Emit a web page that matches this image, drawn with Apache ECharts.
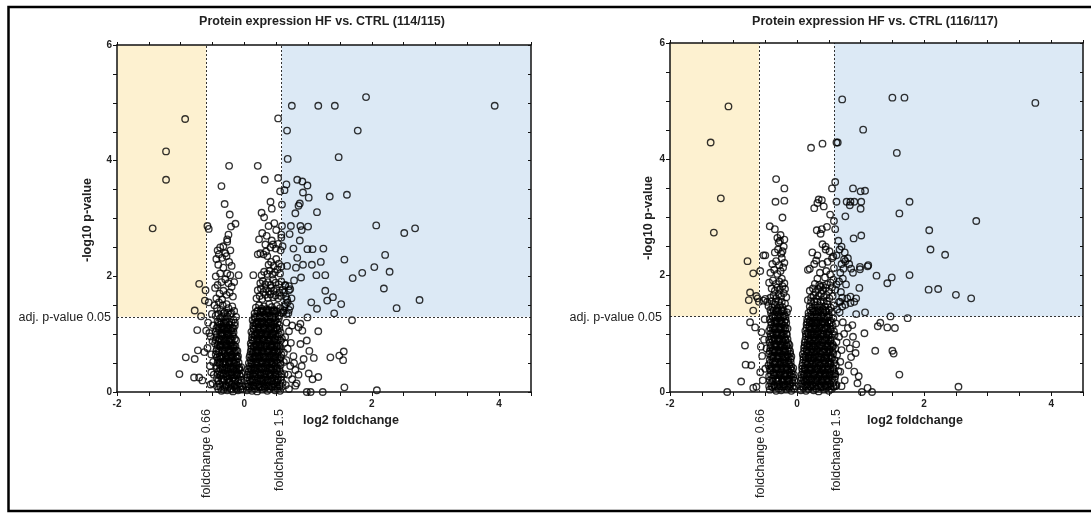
<!DOCTYPE html>
<html>
<head>
<meta charset="utf-8">
<script src="https://cdn.jsdelivr.net/npm/echarts@6/dist/echarts.min.js"></script>
<style>html,body{margin:0;padding:0;background:#fff;}#chart{width:1091px;height:514px;}</style>
</head>
<body>
<div id="chart"></div>
<script>
// ---------- data ----------
const titles = ['Protein expression HF vs. CTRL (114/115)', 'Protein expression HF vs. CTRL (116/117)'];
const xTitle = 'log2 foldchange';
const yTitle = '-log10 p-value';
const pLabel = 'adj. p-value 0.05';
const fcLabels = ['foldchange 0.66', 'foldchange 1.5'];
const fcLines = [-0.6, 0.585];      // log2(0.66), log2(1.5)
const pLine = 1.3;                  // -log10(0.05)
const xRange = [-2, 4.5];
const yRange = [0, 6];

// plot 1 (114/115)
const p1Low = [[-0.93,4.72],[-1.23,4.16],[-1.23,3.67],[-1.44,2.83],[-0.71,1.87],[-0.78,1.41],[-0.68,1.31],[-0.61,1.76],[-0.62,1.58],[-1.02,0.31],[-0.92,0.60],[-0.79,0.25],[-0.78,0.57],[-0.73,0.72],[-0.74,1.07],[-0.71,0.25],[-0.66,0.20],[-0.63,0.69],[-0.60,1.06],[-0.53,0.96],[-0.58,0.76],[-0.53,0.13],[-0.52,0.34],[-0.49,0.52],[-0.55,1.02],[-0.5,0.88],[-0.52,0.65],[-0.48,0.3],[-0.5,0.15],[-0.54,0.45],[-0.57,1.2],[-0.49,1.15],[-0.51,1.35],[-0.56,1.55],[-0.58,2.87],[-0.56,2.82]];
const p1CoreLeft = [[-0.41,0.05],[-0.36,0.02],[-0.31,0.08],[-0.27,0.03],[-0.22,0.06],[-0.18,0.01],[-0.14,0.07],[-0.10,0.03],[-0.06,0.05],[-0.39,0.14],[-0.34,0.17],[-0.29,0.12],[-0.24,0.16],[-0.2,0.13],[-0.16,0.18],[-0.12,0.12],[-0.08,0.15],[-0.04,0.1],
[-0.43,0.24],[-0.38,0.28],[-0.33,0.22],[-0.28,0.27],[-0.25,0.23],[-0.21,0.3],[-0.17,0.25],[-0.13,0.29],[-0.09,0.22],[-0.06,0.27],[-0.4,0.36],[-0.35,0.33],[-0.31,0.38],[-0.26,0.35],[-0.22,0.39],[-0.19,0.34],[-0.15,0.37],[-0.11,0.33],[-0.07,0.38],
[-0.44,0.45],[-0.39,0.48],[-0.35,0.43],[-0.3,0.47],[-0.27,0.42],[-0.23,0.49],[-0.19,0.44],[-0.16,0.5],[-0.12,0.46],[-0.08,0.42],[-0.41,0.56],[-0.37,0.58],[-0.32,0.53],[-0.28,0.57],[-0.24,0.54],[-0.2,0.59],[-0.15,0.55],[-0.11,0.58],
[-0.45,0.65],[-0.4,0.68],[-0.36,0.62],[-0.31,0.66],[-0.27,0.63],[-0.23,0.69],[-0.2,0.64],[-0.16,0.67],[-0.12,0.62],[-0.43,0.75],[-0.38,0.78],[-0.34,0.73],[-0.29,0.77],[-0.25,0.74],[-0.21,0.79],[-0.17,0.76],[-0.13,0.72],
[-0.46,0.84],[-0.41,0.87],[-0.37,0.82],[-0.32,0.86],[-0.28,0.83],[-0.24,0.88],[-0.2,0.85],[-0.16,0.81],[-0.13,0.89],[-0.44,0.95],[-0.39,0.92],[-0.35,0.97],[-0.3,0.94],[-0.26,0.98],[-0.22,0.93],[-0.18,0.96],
[-0.45,1.04],[-0.4,1.07],[-0.36,1.02],[-0.33,1.08],[-0.29,1.05],[-0.25,1.01],[-0.21,1.06],[-0.17,1.03],[-0.42,1.14],[-0.38,1.17],[-0.34,1.13],[-0.3,1.18],[-0.27,1.12],[-0.23,1.16],[-0.19,1.11],[-0.15,1.15],
[-0.47,1.5],[-0.43,1.45],[-0.4,1.55],[-0.37,1.42],[-0.34,1.5],[-0.31,1.38],[-0.28,1.52],[-0.25,1.45],[-0.22,1.35],[-0.19,1.48],[-0.16,1.4],[-0.13,1.3],[-0.45,1.32],[-0.38,1.28],[-0.3,1.25],[-0.24,1.22],[-0.17,1.25],[-0.42,1.22],[-0.35,1.3],[-0.27,1.31],
[-0.46,1.8],[-0.42,1.85],[-0.36,1.9],[-0.3,1.95],[-0.25,1.88],[-0.2,1.82],[-0.16,1.9],[-0.39,1.7],[-0.33,1.75],[-0.28,1.68],[-0.23,1.72],[-0.18,1.65],[-0.44,1.62],[-0.35,1.6],
[-0.44,2.3],[-0.35,2.32],[-0.28,2.35],[-0.24,2.25],[-0.2,2.18],[-0.41,2.2],[-0.33,2.15],[-0.27,2.05],[-0.22,2.02],[-0.38,2.05],[-0.45,2.0],[-0.09,2.02],[-0.42,2.45],[-0.38,2.5],[-0.33,2.52],[-0.27,2.6],[-0.22,2.45],[-0.3,2.4],[-0.4,2.38],
[-0.24,3.91],[-0.36,3.56],[-0.31,3.25],[-0.23,3.07],[-0.14,2.91],[-0.21,2.86],[-0.27,2.64],[-0.25,2.72]];
const p1DenseLeft = [[-0.43,0.1],[-0.38,0.09],[-0.33,0.04],[-0.29,0.1],[-0.25,0.09],[-0.2,0.04],[-0.16,0.1],[-0.12,0.05],[-0.08,0.09],[-0.03,0.04],
[-0.41,0.19],[-0.36,0.23],[-0.32,0.2],[-0.27,0.21],[-0.23,0.19],[-0.19,0.23],[-0.14,0.2],[-0.1,0.19],[-0.05,0.2],
[-0.42,0.31],[-0.37,0.3],[-0.33,0.31],[-0.29,0.32],[-0.24,0.29],[-0.2,0.31],[-0.16,0.3],[-0.12,0.31],[-0.08,0.3],[-0.04,0.32],
[-0.43,0.41],[-0.38,0.4],[-0.34,0.39],[-0.29,0.41],[-0.25,0.4],[-0.21,0.42],[-0.17,0.41],[-0.13,0.4],[-0.09,0.39],[-0.05,0.43],
[-0.42,0.51],[-0.38,0.52],[-0.34,0.5],[-0.29,0.52],[-0.25,0.5],[-0.21,0.52],[-0.17,0.51],[-0.13,0.52],[-0.09,0.51],
[-0.43,0.6],[-0.39,0.61],[-0.34,0.6],[-0.29,0.61],[-0.25,0.6],[-0.22,0.61],[-0.18,0.6],[-0.14,0.61],[-0.1,0.62],
[-0.44,0.71],[-0.4,0.72],[-0.35,0.71],[-0.31,0.7],[-0.27,0.72],[-0.23,0.71],[-0.19,0.72],[-0.15,0.7],[-0.11,0.71],
[-0.42,0.81],[-0.38,0.8],[-0.34,0.81],[-0.3,0.8],[-0.26,0.81],[-0.22,0.8],[-0.18,0.81],[-0.14,0.79],
[-0.45,0.9],[-0.4,0.91],[-0.36,0.9],[-0.32,0.91],[-0.28,0.9],[-0.24,0.91],[-0.2,0.9],[-0.15,0.92],
[-0.43,1.0],[-0.38,0.99],[-0.34,1.0],[-0.31,0.99],[-0.27,1.0],[-0.23,0.99],[-0.19,1.0],
[-0.44,1.1],[-0.4,1.11],[-0.36,1.1],[-0.32,1.11],[-0.28,1.1],[-0.25,1.09],[-0.21,1.1],[-0.17,1.1],
[-0.4,1.2],[-0.36,1.21],[-0.32,1.2],[-0.28,1.21],[-0.2,1.2],[-0.15,1.2],
[-0.41,1.35],[-0.33,1.36],[-0.26,1.37],[-0.2,1.36]];
const p1CoreRight = [[0.04,0.03],[0.08,0.07],[0.12,0.02],[0.16,0.06],[0.2,0.01],[0.24,0.08],[0.28,0.04],[0.32,0.07],[0.36,0.02],[0.4,0.05],[0.44,0.09],[0.48,0.03],[0.52,0.06],[0.56,0.02],[0.06,0.14],[0.1,0.18],[0.14,0.12],[0.18,0.16],[0.22,0.13],[0.26,0.19],[0.3,0.14],[0.34,0.17],[0.38,0.12],[0.42,0.18],[0.46,0.14],[0.5,0.17],[0.55,0.13],[0.6,0.16],
[0.05,0.25],[0.09,0.28],[0.13,0.22],[0.17,0.27],[0.21,0.24],[0.25,0.29],[0.29,0.23],[0.33,0.26],[0.37,0.21],[0.41,0.28],[0.45,0.24],[0.49,0.27],[0.53,0.22],[0.58,0.26],[0.07,0.35],[0.11,0.38],[0.15,0.33],[0.19,0.37],[0.23,0.34],[0.27,0.39],[0.31,0.32],[0.35,0.36],[0.39,0.33],[0.43,0.38],[0.47,0.34],[0.51,0.37],[0.56,0.35],[0.63,0.31],
[0.08,0.44],[0.12,0.48],[0.16,0.42],[0.2,0.46],[0.24,0.43],[0.28,0.49],[0.32,0.44],[0.36,0.47],[0.4,0.42],[0.44,0.48],[0.48,0.45],[0.52,0.41],[0.57,0.47],[0.1,0.55],[0.14,0.58],[0.18,0.53],[0.22,0.57],[0.26,0.54],[0.3,0.59],[0.34,0.52],[0.38,0.56],[0.42,0.53],[0.46,0.58],[0.5,0.54],[0.55,0.57],[0.62,0.52],
[0.09,0.64],[0.13,0.67],[0.17,0.62],[0.21,0.68],[0.25,0.63],[0.29,0.66],[0.33,0.61],[0.37,0.69],[0.41,0.64],[0.45,0.67],[0.49,0.62],[0.53,0.68],[0.58,0.65],[0.11,0.75],[0.15,0.78],[0.19,0.73],[0.23,0.77],[0.27,0.72],[0.31,0.76],[0.35,0.79],[0.39,0.74],[0.43,0.77],[0.47,0.73],[0.51,0.78],[0.56,0.74],
[0.1,0.84],[0.14,0.88],[0.18,0.82],[0.22,0.86],[0.26,0.83],[0.3,0.89],[0.34,0.84],[0.38,0.87],[0.42,0.82],[0.46,0.88],[0.5,0.85],[0.54,0.81],[0.12,0.95],[0.16,0.98],[0.2,0.93],[0.24,0.97],[0.28,0.92],[0.32,0.96],[0.36,0.99],[0.4,0.94],[0.44,0.97],[0.48,0.93],[0.53,0.96],[0.59,0.92],
[0.11,1.04],[0.15,1.08],[0.19,1.02],[0.23,1.06],[0.27,1.03],[0.31,1.09],[0.35,1.04],[0.39,1.07],[0.43,1.01],[0.47,1.05],[0.52,1.08],[0.57,1.03],[0.14,1.15],[0.18,1.18],[0.22,1.13],[0.26,1.17],[0.3,1.12],[0.34,1.16],[0.38,1.19],[0.42,1.14],[0.46,1.17],[0.5,1.12],[0.55,1.16],
[0.13,1.24],[0.17,1.28],[0.21,1.22],[0.25,1.27],[0.29,1.23],[0.33,1.29],[0.37,1.25],[0.41,1.21],[0.45,1.28],[0.49,1.24],[0.54,1.27],[0.16,1.36],[0.2,1.39],[0.24,1.33],[0.28,1.38],[0.32,1.34],[0.36,1.37],[0.4,1.32],[0.44,1.39],[0.48,1.35],[0.53,1.31],[0.58,1.37],[0.18,1.46],[0.23,1.5],[0.27,1.44],[0.31,1.48],[0.35,1.43],[0.39,1.52],[0.43,1.47],[0.47,1.42],[0.51,1.49],[0.56,1.45],
[0.19,1.62],[0.24,1.66],[0.28,1.61],[0.33,1.68],[0.37,1.63],[0.41,1.69],[0.45,1.64],[0.49,1.67],[0.53,1.62],[0.57,1.66],[0.21,1.76],[0.26,1.79],[0.3,1.73],[0.34,1.78],[0.38,1.74],[0.42,1.8],[0.46,1.75],[0.5,1.79],[0.55,1.72],[0.6,1.77],[0.25,1.88],[0.29,1.92],[0.33,1.86],[0.37,1.9],[0.41,1.85],[0.45,1.94],[0.49,1.89],[0.54,1.86],[0.58,1.91],
[0.14,2.02],[0.27,2.02],[0.31,2.08],[0.36,2.04],[0.4,2.1],[0.44,2.03],[0.48,2.07],[0.52,2.12],[0.56,2.05],[0.25,2.4],[0.3,2.38],[0.34,2.43],[0.38,2.2],[0.42,2.25],[0.46,2.18],[0.5,2.3],[0.54,2.22],[0.58,2.17],[0.33,2.55],[0.41,2.5],[0.45,2.55],[0.49,2.48],[0.53,2.56],[0.57,2.45],[0.6,2.52],[0.36,2.35],[0.21,2.38],
[0.21,3.91],[0.32,3.67],[0.53,3.70],[0.56,3.47],[0.41,3.29],[0.43,3.17],[0.27,3.10],[0.31,3.02],[0.38,2.87],[0.28,2.75],[0.23,2.64],[0.58,2.72],[0.58,2.67],[0.53,4.73],[0.59,3.24],[0.59,2.87],[0.43,2.62],[0.35,2.7],[0.47,2.92],[0.5,2.8]];
const p1DenseRight = [[0.03,0.09],[0.07,0.1],[0.11,0.09],[0.15,0.1],[0.19,0.09],[0.23,0.1],[0.27,0.09],[0.31,0.1],[0.35,0.09],[0.39,0.1],[0.43,0.09],[0.47,0.1],[0.51,0.09],[0.55,0.1],[0.59,0.09],
[0.04,0.2],[0.08,0.21],[0.12,0.2],[0.16,0.21],[0.2,0.2],[0.24,0.21],[0.28,0.2],[0.32,0.21],[0.36,0.2],[0.4,0.21],[0.44,0.2],[0.48,0.21],[0.52,0.2],[0.57,0.21],
[0.05,0.3],[0.09,0.31],[0.13,0.3],[0.17,0.31],[0.21,0.3],[0.25,0.31],[0.29,0.3],[0.33,0.31],[0.37,0.3],[0.41,0.31],[0.45,0.3],[0.49,0.31],[0.53,0.3],[0.58,0.31],
[0.06,0.4],[0.1,0.41],[0.14,0.4],[0.18,0.41],[0.22,0.4],[0.26,0.41],[0.3,0.4],[0.34,0.41],[0.38,0.4],[0.42,0.41],[0.46,0.4],[0.5,0.41],[0.55,0.4],
[0.07,0.5],[0.11,0.51],[0.15,0.5],[0.19,0.51],[0.23,0.5],[0.27,0.51],[0.31,0.5],[0.35,0.51],[0.39,0.5],[0.43,0.51],[0.47,0.5],[0.51,0.51],[0.56,0.5],
[0.08,0.6],[0.12,0.61],[0.16,0.6],[0.2,0.61],[0.24,0.6],[0.28,0.61],[0.32,0.6],[0.36,0.61],[0.4,0.6],[0.44,0.61],[0.48,0.6],[0.52,0.61],[0.57,0.6],
[0.1,0.7],[0.14,0.71],[0.18,0.7],[0.22,0.71],[0.26,0.7],[0.3,0.71],[0.34,0.7],[0.38,0.71],[0.42,0.7],[0.46,0.71],[0.5,0.7],[0.54,0.71],
[0.11,0.8],[0.15,0.79],[0.19,0.8],[0.23,0.79],[0.27,0.8],[0.31,0.79],[0.35,0.8],[0.39,0.79],[0.43,0.8],[0.47,0.79],[0.51,0.8],[0.56,0.79],
[0.12,0.9],[0.16,0.91],[0.2,0.9],[0.24,0.91],[0.28,0.9],[0.32,0.91],[0.36,0.9],[0.4,0.91],[0.44,0.9],[0.48,0.91],[0.52,0.9],[0.57,0.89],
[0.13,1.0],[0.17,0.99],[0.21,1.0],[0.25,0.99],[0.29,1.0],[0.33,0.99],[0.37,1.0],[0.41,0.99],[0.45,1.0],[0.49,0.99],[0.54,1.0],
[0.14,1.1],[0.18,1.11],[0.22,1.1],[0.26,1.11],[0.3,1.1],[0.34,1.11],[0.38,1.1],[0.42,1.11],[0.46,1.1],[0.5,1.11],[0.55,1.1],
[0.15,1.2],[0.19,1.19],[0.23,1.2],[0.27,1.19],[0.31,1.2],[0.35,1.19],[0.39,1.2],[0.43,1.19],[0.47,1.2],[0.52,1.19],
[0.16,1.3],[0.2,1.31],[0.24,1.3],[0.28,1.31],[0.32,1.3],[0.36,1.31],[0.4,1.3],[0.44,1.31],[0.48,1.3],[0.55,1.32],
[0.21,1.41],[0.26,1.4],[0.3,1.41],[0.34,1.4],[0.38,1.41],[0.42,1.4],[0.46,1.41],[0.5,1.4]];
const p1High = [[0.745,4.95],[1.16,4.95],[1.42,4.95],[1.91,5.10],[3.93,4.95],[0.67,4.52],[1.78,4.52],[0.68,4.03],[1.48,4.06],[0.66,3.59],[0.63,3.49],[0.83,3.67],[0.91,3.64],[0.99,3.57],[0.92,3.45],[1.34,3.38],[1.61,3.41],[1.01,3.36],[0.87,3.26],[0.85,3.22],[0.80,3.09],[1.14,3.11],[0.73,2.87],[0.88,2.87],[1.00,2.86],[2.07,2.88],[2.68,2.83],[2.51,2.75],[0.90,2.80],[0.71,2.73],[0.87,2.62],[0.77,2.48],[0.99,2.47],[1.07,2.47],[1.24,2.48],[0.83,2.32],[1.57,2.29],[2.21,2.37],[0.67,2.18],[0.81,2.15],[0.92,2.20],[1.06,2.20],[1.20,2.25],[2.04,2.16],[2.28,2.08],[1.85,2.06],[1.70,1.97],[0.89,1.98],[1.13,2.02],[1.27,2.02],[0.78,1.93],[0.70,1.83],[2.19,1.79],[1.27,1.75],[2.75,1.59],[1.30,1.58],[1.39,1.64],[1.05,1.55],[1.52,1.52],[1.14,1.44],[2.39,1.45],[1.41,1.36],[1.69,1.24],[0.99,1.29],[0.88,1.18],[0.85,1.12],[0.91,1.06],[1.16,1.05],[0.98,0.89],[0.88,0.83],[1.02,0.71],[1.56,0.70],[1.35,0.60],[1.49,0.63],[1.55,0.55],[1.09,0.59],[0.93,0.57],[1.01,0.32],[1.16,0.26],[1.07,0.22],[1.57,0.08],[2.08,0.03],[0.98,0],[1.04,0],[1.23,0],[0.80,0.11],
[0.62,1.72],[0.65,1.65],[0.68,1.55],[0.63,1.48],[0.7,1.42],[0.66,1.35],[0.74,1.62],[0.61,1.38],[0.72,1.78],[0.64,1.85],[0.62,1.41],[0.65,1.52],[0.69,1.36],[0.72,1.48],[0.67,1.6],[0.64,1.84],[0.7,1.76],
[0.66,1.2],[0.7,1.05],[0.64,0.95],[0.73,0.85],[0.68,0.75],[0.77,0.62],[0.66,0.55],[0.72,0.45],[0.8,0.38],[0.69,0.3],[0.75,0.22],[0.65,0.12],[0.82,0.15],[0.7,0.05],[0.78,0.5],[0.85,0.3],[0.9,0.45],[0.62,0.68],[0.63,0.85],[0.75,1.15]];

// plot 2 (116/117)
const p2Low = [[-1.08,4.91],[-1.36,4.29],[-1.20,3.33],[-1.31,2.74],[-0.78,2.25],[-0.69,2.04],[-0.74,1.71],[-0.76,1.58],[-0.69,1.40],[-0.64,1.65],[-0.62,1.61],[-0.82,0.80],[-0.81,0.47],[-0.72,0.46],[-0.88,0.18],[-1.10,0.0],[-0.74,1.20],[-0.66,1.11],[-0.56,1.03],[-0.69,0.07],[-0.64,0.09],[-0.58,0.34],[-0.52,0.9],[-0.55,0.62],[-0.5,0.4],[-0.54,0.2],[-0.48,0.75],[-0.51,1.25],[-0.57,0.78],[-0.58,2.08],[-0.6,1.55],[-0.53,2.35],[-0.5,2.35],[-0.47,1.55],[-0.5,1.6],[-0.53,1.57]];
const p2CoreLeft = [[-0.43,0.04],[-0.38,0.08],[-0.33,0.02],[-0.29,0.06],[-0.25,0.03],[-0.21,0.09],[-0.17,0.04],[-0.13,0.07],[-0.09,0.02],[-0.05,0.06],[-0.41,0.15],[-0.36,0.12],[-0.31,0.18],[-0.27,0.14],[-0.23,0.17],[-0.19,0.13],[-0.15,0.19],[-0.11,0.14],[-0.07,0.16],
[-0.44,0.27],[-0.39,0.23],[-0.35,0.28],[-0.3,0.24],[-0.26,0.29],[-0.22,0.22],[-0.18,0.27],[-0.14,0.23],[-0.1,0.28],[-0.06,0.25],[-0.42,0.37],[-0.37,0.34],[-0.32,0.39],[-0.28,0.33],[-0.24,0.36],[-0.2,0.31],[-0.16,0.38],[-0.12,0.34],[-0.08,0.37],
[-0.45,0.46],[-0.4,0.43],[-0.36,0.48],[-0.32,0.42],[-0.28,0.47],[-0.24,0.44],[-0.2,0.49],[-0.16,0.43],[-0.12,0.47],[-0.09,0.44],[-0.43,0.55],[-0.38,0.58],[-0.34,0.53],[-0.3,0.57],[-0.26,0.52],[-0.22,0.56],[-0.18,0.59],[-0.14,0.54],[-0.1,0.57],
[-0.44,0.66],[-0.39,0.63],[-0.35,0.68],[-0.31,0.62],[-0.27,0.67],[-0.23,0.64],[-0.19,0.69],[-0.15,0.63],[-0.11,0.66],[-0.42,0.76],[-0.37,0.73],[-0.33,0.78],[-0.29,0.72],[-0.25,0.77],[-0.21,0.74],[-0.17,0.79],[-0.13,0.75],
[-0.43,0.85],[-0.38,0.88],[-0.34,0.83],[-0.3,0.87],[-0.26,0.82],[-0.22,0.86],[-0.18,0.89],[-0.14,0.84],[-0.41,0.96],[-0.36,0.93],[-0.32,0.98],[-0.28,0.92],[-0.24,0.97],[-0.2,0.94],[-0.16,0.99],
[-0.44,1.05],[-0.39,1.02],[-0.35,1.08],[-0.31,1.03],[-0.27,1.07],[-0.23,1.01],[-0.19,1.06],[-0.15,1.09],[-0.4,1.16],[-0.36,1.13],[-0.32,1.18],[-0.28,1.12],[-0.24,1.17],[-0.2,1.14],[-0.17,1.19],
[-0.43,1.25],[-0.38,1.28],[-0.34,1.22],[-0.3,1.27],[-0.26,1.23],[-0.22,1.29],[-0.18,1.24],[-0.41,1.36],[-0.36,1.33],[-0.32,1.38],[-0.28,1.34],[-0.24,1.39],[-0.2,1.32],[-0.16,1.37],[-0.45,1.48],[-0.39,1.45],[-0.35,1.5],[-0.31,1.44],[-0.27,1.49],[-0.23,1.46],[-0.19,1.52],[-0.14,1.43],
[-0.42,1.62],[-0.37,1.66],[-0.33,1.61],[-0.29,1.68],[-0.25,1.64],[-0.21,1.7],[-0.17,1.63],[-0.4,1.78],[-0.35,1.74],[-0.31,1.8],[-0.27,1.76],[-0.23,1.82],[-0.19,1.77],[-0.44,1.88],[-0.38,1.92],[-0.33,1.86],[-0.28,1.9],[-0.24,1.95],[-0.2,1.87],
[-0.42,2.05],[-0.36,2.1],[-0.31,2.03],[-0.26,2.08],[-0.22,2.14],[-0.39,2.2],[-0.33,2.25],[-0.28,2.18],[-0.24,2.3],[-0.2,2.22],[-0.35,2.4],[-0.3,2.45],[-0.25,2.38],[-0.21,2.5],[-0.31,2.65],[-0.29,2.57],[-0.43,2.85],[-0.35,2.8],[-0.23,2.42],[-0.27,2.6],[-0.26,2.7],[-0.2,2.62],
[-0.33,3.66],[-0.2,3.5],[-0.34,3.27],[-0.2,3.29],[-0.23,3.0]];
const p2DenseLeft = [[-0.44,0.1],[-0.4,0.09],[-0.35,0.1],[-0.31,0.09],[-0.27,0.1],[-0.23,0.09],[-0.19,0.1],[-0.15,0.09],[-0.11,0.1],[-0.07,0.09],[-0.03,0.1],
[-0.43,0.2],[-0.38,0.19],[-0.33,0.21],[-0.29,0.2],[-0.24,0.21],[-0.2,0.2],[-0.16,0.21],[-0.12,0.2],[-0.08,0.21],[-0.04,0.2],
[-0.41,0.3],[-0.37,0.29],[-0.32,0.31],[-0.28,0.3],[-0.24,0.29],[-0.2,0.3],[-0.16,0.31],[-0.12,0.29],[-0.08,0.31],[-0.05,0.3],
[-0.43,0.4],[-0.38,0.41],[-0.34,0.4],[-0.3,0.39],[-0.26,0.4],[-0.22,0.41],[-0.18,0.4],[-0.14,0.39],[-0.1,0.4],[-0.06,0.41],
[-0.42,0.5],[-0.38,0.51],[-0.34,0.5],[-0.3,0.51],[-0.26,0.49],[-0.22,0.5],[-0.18,0.51],[-0.14,0.5],[-0.1,0.51],
[-0.41,0.61],[-0.37,0.6],[-0.33,0.61],[-0.29,0.6],[-0.25,0.61],[-0.21,0.6],[-0.17,0.61],[-0.13,0.6],[-0.09,0.61],
[-0.43,0.7],[-0.39,0.71],[-0.35,0.7],[-0.31,0.71],[-0.27,0.7],[-0.23,0.71],[-0.19,0.7],[-0.15,0.71],[-0.11,0.7],
[-0.41,0.8],[-0.36,0.81],[-0.32,0.8],[-0.28,0.81],[-0.24,0.8],[-0.2,0.81],[-0.16,0.8],[-0.12,0.81],
[-0.44,0.9],[-0.4,0.91],[-0.35,0.9],[-0.31,0.91],[-0.27,0.9],[-0.23,0.91],[-0.19,0.9],[-0.15,0.91],
[-0.42,1.0],[-0.37,0.99],[-0.33,1.0],[-0.29,0.99],[-0.25,1.0],[-0.21,0.99],[-0.17,1.0],
[-0.42,1.1],[-0.38,1.09],[-0.34,1.1],[-0.3,1.09],[-0.26,1.1],[-0.22,1.09],[-0.18,1.1],
[-0.41,1.2],[-0.36,1.21],[-0.32,1.2],[-0.28,1.21],[-0.24,1.2],[-0.2,1.21],
[-0.39,1.31],[-0.34,1.3],[-0.3,1.31],[-0.26,1.3],[-0.22,1.31],[-0.18,1.3],
[-0.42,1.41],[-0.37,1.4],[-0.33,1.41],[-0.29,1.4],[-0.25,1.41],[-0.21,1.4],
[-0.4,1.56],[-0.34,1.55],[-0.29,1.56],[-0.24,1.55]];
const p2CoreRight = [[0.06,0.03],[0.1,0.07],[0.14,0.02],[0.18,0.05],[0.22,0.09],[0.26,0.03],[0.3,0.06],[0.34,0.01],[0.38,0.08],[0.42,0.04],[0.46,0.07],[0.5,0.02],[0.54,0.05],[0.58,0.09],[0.08,0.15],[0.12,0.18],[0.16,0.13],[0.2,0.17],[0.24,0.12],[0.28,0.16],[0.32,0.19],[0.36,0.14],[0.4,0.17],[0.44,0.12],[0.48,0.18],[0.52,0.14],[0.57,0.16],[0.62,0.12],
[0.07,0.24],[0.11,0.28],[0.15,0.22],[0.19,0.26],[0.23,0.23],[0.27,0.29],[0.31,0.24],[0.35,0.27],[0.39,0.21],[0.43,0.26],[0.47,0.23],[0.51,0.28],[0.55,0.24],[0.6,0.27],[0.09,0.35],[0.13,0.38],[0.17,0.33],[0.21,0.37],[0.25,0.32],[0.29,0.36],[0.33,0.39],[0.37,0.34],[0.41,0.37],[0.45,0.33],[0.49,0.38],[0.53,0.35],[0.58,0.32],[0.65,0.36],
[0.08,0.45],[0.12,0.42],[0.16,0.47],[0.2,0.43],[0.24,0.48],[0.28,0.44],[0.32,0.41],[0.36,0.46],[0.4,0.43],[0.44,0.49],[0.48,0.44],[0.52,0.47],[0.56,0.42],[0.61,0.46],[0.1,0.56],[0.14,0.53],[0.18,0.58],[0.22,0.54],[0.26,0.57],[0.3,0.52],[0.34,0.56],[0.38,0.59],[0.42,0.54],[0.46,0.57],[0.5,0.53],[0.54,0.58],[0.59,0.55],[0.68,0.52],
[0.09,0.65],[0.13,0.62],[0.17,0.67],[0.21,0.63],[0.25,0.68],[0.29,0.64],[0.33,0.61],[0.37,0.66],[0.41,0.69],[0.45,0.63],[0.49,0.67],[0.53,0.62],[0.57,0.66],[0.63,0.64],[0.11,0.76],[0.15,0.73],[0.19,0.78],[0.23,0.74],[0.27,0.77],[0.31,0.72],[0.35,0.76],[0.39,0.79],[0.43,0.73],[0.47,0.77],[0.51,0.74],[0.55,0.78],[0.6,0.75],[0.7,0.72],
[0.12,0.85],[0.16,0.82],[0.2,0.87],[0.24,0.83],[0.28,0.88],[0.32,0.84],[0.36,0.81],[0.4,0.86],[0.44,0.89],[0.48,0.83],[0.52,0.87],[0.56,0.82],[0.62,0.86],[0.14,0.96],[0.18,0.93],[0.22,0.98],[0.26,0.94],[0.3,0.97],[0.34,0.92],[0.38,0.96],[0.42,0.99],[0.46,0.93],[0.5,0.97],[0.54,0.94],[0.59,0.98],[0.66,0.95],
[0.13,1.05],[0.17,1.02],[0.21,1.07],[0.25,1.03],[0.29,1.08],[0.33,1.04],[0.37,1.01],[0.41,1.06],[0.45,1.09],[0.49,1.03],[0.53,1.07],[0.58,1.04],[0.15,1.16],[0.19,1.13],[0.23,1.18],[0.27,1.14],[0.31,1.17],[0.35,1.12],[0.39,1.16],[0.43,1.19],[0.47,1.13],[0.51,1.17],[0.56,1.14],[0.61,1.18],
[0.16,1.25],[0.2,1.22],[0.24,1.27],[0.28,1.23],[0.32,1.28],[0.36,1.24],[0.4,1.21],[0.44,1.26],[0.48,1.29],[0.52,1.23],[0.57,1.27],[0.18,1.36],[0.22,1.33],[0.26,1.38],[0.3,1.34],[0.34,1.37],[0.38,1.32],[0.42,1.36],[0.46,1.39],[0.5,1.33],[0.55,1.37],[0.2,1.47],[0.24,1.44],[0.28,1.49],[0.32,1.45],[0.36,1.48],[0.4,1.43],[0.44,1.47],[0.48,1.51],[0.53,1.45],[0.58,1.49],
[0.17,1.58],[0.22,1.62],[0.26,1.66],[0.3,1.6],[0.34,1.65],[0.38,1.69],[0.42,1.63],[0.46,1.67],[0.51,1.61],[0.56,1.65],[0.2,1.74],[0.25,1.78],[0.29,1.72],[0.33,1.77],[0.37,1.81],[0.41,1.75],[0.45,1.79],[0.5,1.73],[0.55,1.8],[0.28,1.86],[0.35,1.84],[0.41,1.83],[0.47,1.85],[0.53,1.88],[0.32,1.95],[0.44,1.97],[0.57,1.93],
[0.17,2.1],[0.2,2.12],[0.36,2.05],[0.46,2.08],[0.52,2.02],[0.58,2.13],[0.27,2.2],[0.3,2.26],[0.4,2.2],[0.48,2.24],[0.55,2.3],[0.32,2.35],[0.24,2.4],[0.45,2.45],[0.51,2.42],[0.57,2.33],[0.4,2.54],[0.45,2.5],[0.31,2.78],[0.37,2.72],[0.39,2.8],[0.47,2.84],[0.52,3.05],[0.58,2.94],[0.27,3.16],[0.42,3.19],[0.32,3.25],[0.34,3.31],[0.39,3.3],[0.55,3.5],[0.22,4.2],[0.4,4.27]];
const p2DenseRight = [[0.05,0.1],[0.09,0.09],[0.13,0.1],[0.17,0.09],[0.21,0.1],[0.25,0.09],[0.29,0.1],[0.33,0.09],[0.37,0.1],[0.41,0.09],[0.45,0.1],[0.49,0.09],[0.53,0.1],[0.57,0.09],[0.61,0.1],
[0.06,0.2],[0.1,0.21],[0.14,0.2],[0.18,0.21],[0.22,0.2],[0.26,0.21],[0.3,0.2],[0.34,0.21],[0.38,0.2],[0.42,0.21],[0.46,0.2],[0.5,0.21],[0.54,0.2],[0.59,0.21],
[0.07,0.3],[0.11,0.31],[0.15,0.3],[0.19,0.31],[0.23,0.3],[0.27,0.31],[0.31,0.3],[0.35,0.31],[0.39,0.3],[0.43,0.31],[0.47,0.3],[0.51,0.31],[0.55,0.3],[0.6,0.31],
[0.08,0.4],[0.12,0.39],[0.16,0.4],[0.2,0.39],[0.24,0.4],[0.28,0.39],[0.32,0.4],[0.36,0.39],[0.4,0.4],[0.44,0.39],[0.48,0.4],[0.52,0.39],[0.57,0.4],
[0.09,0.5],[0.13,0.49],[0.17,0.5],[0.21,0.49],[0.25,0.5],[0.29,0.49],[0.33,0.5],[0.37,0.49],[0.41,0.5],[0.45,0.49],[0.49,0.5],[0.53,0.49],[0.58,0.5],
[0.1,0.6],[0.14,0.59],[0.18,0.6],[0.22,0.59],[0.26,0.6],[0.3,0.59],[0.34,0.6],[0.38,0.59],[0.42,0.6],[0.46,0.59],[0.5,0.6],[0.55,0.59],
[0.11,0.7],[0.15,0.69],[0.19,0.7],[0.23,0.69],[0.27,0.7],[0.31,0.69],[0.35,0.7],[0.39,0.69],[0.43,0.7],[0.47,0.69],[0.51,0.7],[0.56,0.69],
[0.12,0.8],[0.16,0.79],[0.2,0.8],[0.24,0.79],[0.28,0.8],[0.32,0.79],[0.36,0.8],[0.4,0.79],[0.44,0.8],[0.48,0.79],[0.52,0.8],[0.57,0.79],
[0.13,0.9],[0.17,0.89],[0.21,0.9],[0.25,0.89],[0.29,0.9],[0.33,0.89],[0.37,0.9],[0.41,0.89],[0.45,0.9],[0.49,0.89],[0.53,0.9],
[0.14,1.0],[0.18,0.99],[0.22,1.0],[0.26,0.99],[0.3,1.0],[0.34,0.99],[0.38,1.0],[0.42,0.99],[0.46,1.0],[0.5,0.99],[0.55,1.0],
[0.15,1.1],[0.19,1.09],[0.23,1.1],[0.27,1.09],[0.31,1.1],[0.35,1.09],[0.39,1.1],[0.43,1.09],[0.47,1.1],[0.52,1.09],
[0.16,1.2],[0.2,1.19],[0.24,1.2],[0.28,1.19],[0.32,1.2],[0.36,1.19],[0.4,1.2],[0.44,1.19],[0.48,1.2],[0.54,1.19],
[0.18,1.3],[0.22,1.29],[0.26,1.3],[0.3,1.29],[0.34,1.3],[0.38,1.29],[0.42,1.3],[0.46,1.29],[0.5,1.3],
[0.21,1.4],[0.25,1.41],[0.29,1.4],[0.33,1.41],[0.37,1.4],[0.41,1.41],[0.45,1.4],[0.5,1.41],
[0.22,1.55],[0.27,1.56],[0.32,1.55],[0.37,1.56],[0.42,1.55],[0.47,1.56]];
const p2High = [[0.71,5.03],[1.50,5.06],[1.69,5.06],[3.75,4.97],[1.04,4.51],[1.57,4.11],[0.62,4.29],[0.64,4.29],[0.6,3.61],[0.62,3.27],[0.6,2.8],[0.62,2.35],[0.6,1.76],[0.62,1.85],[0.63,1.42],[0.66,1.55],[0.71,1.47],[0.67,2.45],
[0.88,3.50],[1.00,3.45],[1.07,3.46],[0.78,3.27],[0.84,3.27],[0.90,3.27],[1.01,3.27],[0.83,3.21],[1.00,3.15],[1.77,3.27],[1.61,3.07],[0.76,3.02],[2.82,2.94],[2.08,2.78],[0.89,2.64],[1.01,2.69],[2.10,2.45],[2.33,2.36],[0.74,2.28],[1.25,2.00],[1.49,1.97],[1.42,1.87],[1.77,2.01],[2.07,1.76],[2.22,1.77],[2.50,1.67],[2.74,1.61],[0.98,1.79],[0.84,1.64],[0.93,1.61],[0.79,1.61],[0.84,1.53],[0.68,1.55],[0.67,1.37],[0.93,1.34],[1.07,1.37],[0.99,2.15],[0.99,2.11],[1.12,2.18],[1.11,2.16],[1.47,1.30],[1.74,1.27],[1.27,1.13],[1.31,1.19],[1.42,1.11],[1.54,1.10],[1.06,1.01],[1.23,0.71],[1.50,0.71],[1.52,0.66],[1.61,0.30],[2.54,0.09],[0.92,0.67],[1.02,0],[1.11,0.07],[1.18,0],[0.97,0.27],[0.81,0.46],
[0.7,2.2],[0.73,2.12],[0.76,2.25],[0.68,2.05],[0.72,1.95],[0.66,1.9],[0.69,1.72],[0.77,1.85],[0.8,2.3],[0.82,2.2],[0.75,2.4],[0.7,2.5],[0.65,2.6],[0.71,1.62],[0.88,2.05],[0.85,2.12],[0.9,1.55],[0.76,1.5],
[0.75,0.2],[0.7,0.1],[0.85,0.6],[0.78,0.85],[0.88,0.95],[0.8,1.1],[0.72,1.2],[0.9,0.35],[0.95,0.15],[0.68,0.35],[0.83,0.75],[0.74,1.0],[0.93,0.82],[0.87,1.15]];

// ---------- chart ----------
const FONT = '"Liberation Sans", Arial, Helvetica, sans-serif';
const TXT = '#222';
const chart = echarts.init(document.getElementById('chart'), null, {renderer: 'canvas'});

function xAxes(gi) {
  const common = {gridIndex: gi, type: 'value', min: xRange[0], max: xRange[1], interval: 0.5, z: 10,
    splitLine: {show: false}, axisLine: {onZero: false, lineStyle: {color: '#111', width: 1.5}}};
  return [
    Object.assign({}, common, {position: 'bottom',
      axisTick: {length: 4, lineStyle: {color: '#111', width: 1}},
      axisLabel: {interval: 0, margin: 7, fontSize: 10, fontWeight: 'bold', color: TXT, fontFamily: FONT,
        formatter: v => (Math.abs(v % 2) < 1e-9 ? String(v) : '')}}),
    Object.assign({}, common, {position: 'top',
      axisTick: {length: 3, lineStyle: {color: '#111', width: 1}}, axisLabel: {show: false}})
  ];
}
function yAxes(gi) {
  const common = {gridIndex: gi, type: 'value', min: yRange[0], max: yRange[1], interval: 0.5, z: 10,
    splitLine: {show: false}, axisLine: {onZero: false, lineStyle: {color: '#111', width: 1.5}}};
  return [
    Object.assign({}, common, {position: 'left',
      axisTick: {length: 4, lineStyle: {color: '#111', width: 1}},
      axisLabel: {interval: 0, margin: 5, fontSize: 10, fontWeight: 'bold', color: TXT, fontFamily: FONT,
        formatter: v => (Math.abs(v % 2) < 1e-9 ? String(v) : '')}}),
    Object.assign({}, common, {position: 'right',
      axisTick: {inside: true, length: 3, lineStyle: {color: '#111', width: 1}}, axisLabel: {show: false}})
  ];
}
function pointSeries(idx, data) {
  return {type: 'scatter', xAxisIndex: idx * 2, yAxisIndex: idx * 2, data: data, z: 2,
    symbol: 'circle', symbolSize: 6.5, silent: true, large: false,
    itemStyle: {color: 'rgba(255,255,255,0)', borderColor: '#000', borderWidth: 1.35}};
}
function overlaySeries(idx) {
  return {type: 'scatter', xAxisIndex: idx * 2, yAxisIndex: idx * 2, data: [], z: 5, silent: true,
    markArea: {silent: true, data: [
      [{xAxis: xRange[0], yAxis: pLine, itemStyle: {color: 'rgba(251,224,150,0.45)'}}, {xAxis: fcLines[0], yAxis: yRange[1]}],
      [{xAxis: fcLines[1], yAxis: pLine, itemStyle: {color: 'rgba(177,206,233,0.45)'}}, {xAxis: xRange[1], yAxis: yRange[1]}]
    ]}};
}
function lineSeries(idx) {
  return {type: 'scatter', xAxisIndex: idx * 2, yAxisIndex: idx * 2, data: [], z: 6, silent: true,
    markLine: {silent: true, symbol: 'none', label: {show: false}, animation: false,
      lineStyle: {color: '#333', width: 1, type: [2, 2]},
      data: [{xAxis: fcLines[0]}, {xAxis: fcLines[1]}, {yAxis: pLine}]}};
}
function txt(x, y, text, opts) {
  return Object.assign({type: 'text', x: x, y: y, silent: true, z: 20,
    style: Object.assign({text: text, fill: TXT, font: '12.5px ' + FONT, align: 'center', verticalAlign: 'middle'}, opts && opts.style || {})},
    opts && opts.rotation !== undefined ? {rotation: opts.rotation} : {});
}

const option = {
  animation: false,
  backgroundColor: '#fff',
  grid: [
    {left: 117, top: 45, width: 414, height: 347},
    {left: 670, top: 43, width: 413, height: 349}
  ],
  xAxis: xAxes(0).concat(xAxes(1)),
  yAxis: yAxes(0).concat(yAxes(1)),
  series: [
    pointSeries(0, p1Low.concat(p1CoreLeft, p1DenseLeft, p1CoreRight, p1DenseRight, p1High)),
    overlaySeries(0), lineSeries(0),
    pointSeries(1, p2Low.concat(p2CoreLeft, p2DenseLeft, p2CoreRight, p2DenseRight, p2High)),
    overlaySeries(1), lineSeries(1)
  ],
  graphic: [
    {type: 'rect', silent: true, z: 30, shape: {x: 8.5, y: 7, width: 1100, height: 504},
      style: {fill: 'none', stroke: '#000', lineWidth: 2.5}},
    txt(322, 22, titles[0], {style: {font: 'bold 12.5px ' + FONT}}),
    txt(875, 22, titles[1], {style: {font: 'bold 12.5px ' + FONT}}),
    txt(351, 421, xTitle, {style: {font: 'bold 12.5px ' + FONT}}),
    txt(915, 421, xTitle, {style: {font: 'bold 12.5px ' + FONT}}),
    txt(88, 220, yTitle, {rotation: Math.PI / 2, style: {font: 'bold 12.5px ' + FONT}}),
    txt(649, 218, yTitle, {rotation: Math.PI / 2, style: {font: 'bold 12.5px ' + FONT}}),
    txt(111, 318, pLabel, {style: {align: 'right'}}),
    txt(662, 318, pLabel, {style: {align: 'right'}}),
    txt(207, 409, fcLabels[0], {rotation: Math.PI / 2, style: {align: 'right'}}),
    txt(280, 409, fcLabels[1], {rotation: Math.PI / 2, style: {align: 'right'}}),
    txt(761, 409, fcLabels[0], {rotation: Math.PI / 2, style: {align: 'right'}}),
    txt(837, 409, fcLabels[1], {rotation: Math.PI / 2, style: {align: 'right'}})
  ]
};
chart.setOption(option);
</script>
</body>
</html>
